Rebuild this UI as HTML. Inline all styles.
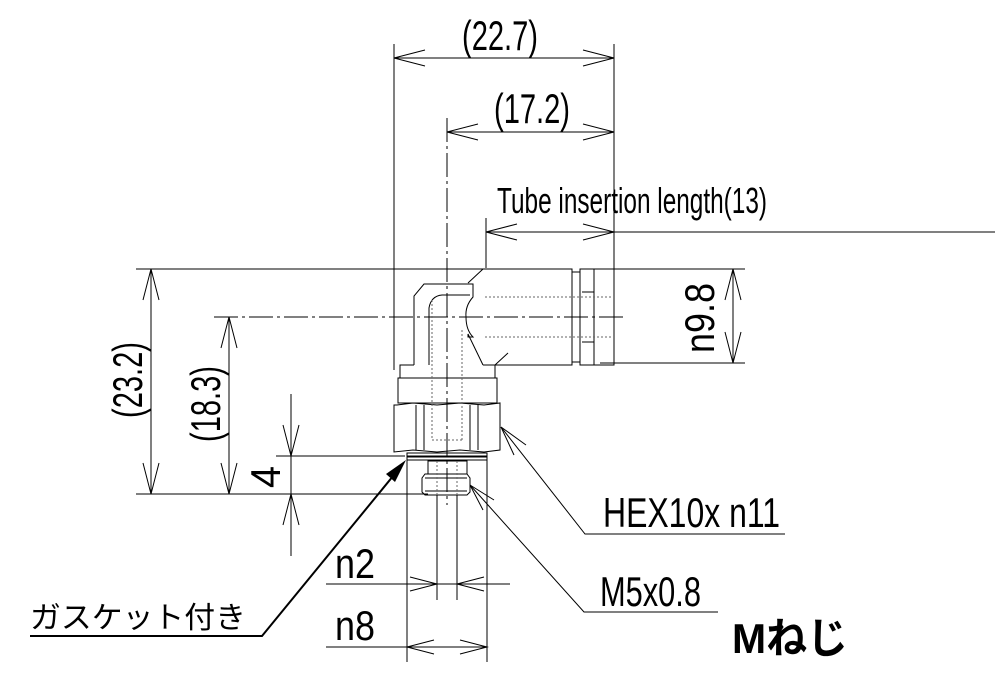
<!DOCTYPE html>
<html><head><meta charset="utf-8"><style>
html,body{margin:0;padding:0;background:#fff;}
svg{display:block;}
text{font-family:"Liberation Sans Narrow","Liberation Sans","Noto Sans CJK JP",sans-serif;fill:#000;}
</style></head><body>
<svg width="1000" height="678" viewBox="0 0 1000 678" xmlns="http://www.w3.org/2000/svg">
<g stroke="#000" stroke-width="1" fill="none">
<line x1="394" y1="44" x2="394" y2="370"/>
<line x1="447" y1="118" x2="447" y2="505" stroke-dasharray="24,4,3,4"/>
<line x1="486" y1="218" x2="486" y2="268"/>
<line x1="614" y1="44" x2="614" y2="270"/>
<line x1="394" y1="58" x2="614" y2="58"/>
<path d="M425 50 L394 58 L425 66 M583 50 L614 58 L583 66"/>
<line x1="447" y1="132" x2="614" y2="132"/>
<path d="M478 124 L447 132 L478 140 M583 124 L614 132 L583 140"/>
<line x1="486" y1="232" x2="995" y2="232"/>
<path d="M517 224 L486 232 L517 240 M583 224 L614 232 L583 240"/>
<line x1="136" y1="269" x2="483" y2="269"/>
<line x1="214" y1="317" x2="625" y2="317" stroke-dasharray="24,4,3,4"/>
<line x1="136" y1="494" x2="428" y2="494"/>
<line x1="276" y1="456" x2="405" y2="456"/>
<line x1="151" y1="269" x2="151" y2="494"/>
<path d="M143 300 L151 269 L159 300 M143 463 L151 494 L159 463"/>
<line x1="229" y1="317" x2="229" y2="494"/>
<path d="M221 348 L229 317 L237 348 M221 463 L229 494 L237 463"/>
<line x1="291" y1="394" x2="291" y2="556"/>
<path d="M283 425 L291 456 L299 425 M283 525 L291 494 L299 525"/>
<line x1="600" y1="269" x2="745" y2="269"/>
<line x1="600" y1="363" x2="745" y2="363"/>
<line x1="733" y1="269" x2="733" y2="363"/>
<path d="M725 300 L733 269 L741 300 M725 332 L733 363 L741 332"/>
<line x1="437" y1="495" x2="437" y2="600"/>
<line x1="457" y1="495" x2="457" y2="600"/>
<line x1="407" y1="460" x2="407" y2="662"/>
<line x1="487" y1="460" x2="487" y2="662"/>
<line x1="326" y1="584" x2="510" y2="584"/>
<path d="M410 577 L437 584 L410 591 M484 577 L457 584 L484 591"/>
<line x1="326" y1="647" x2="487" y2="647"/>
<path d="M434 640 L407 647 L434 654 M460 640 L487 647 L460 654"/>
<path d="M414 365 L414 296 L424 284 L473 284 L473 297 Q465 306 466 317 Q466 330 473 337 L468 337 L468 334 L483 365" />
<path d="M468 283 L483 269 L572 269 L572 365 L483 365"/>
<path d="M429 365 L429 308 Q431 296 442 295 L470 295"/>
<path d="M572 272 L580 272 L580 362 L572 362"/>
<path d="M580 269 L614 269 L614 365 L580 365 Z"/>
<line x1="594" y1="269" x2="594" y2="365"/>
<line x1="582" y1="292" x2="594" y2="292"/>
<line x1="582" y1="342" x2="594" y2="342"/>
<path d="M483 365 L495 365 L495 378 L400 378 L400 365 L414 365"/>
<line x1="495" y1="365" x2="508" y2="353"/>
<rect x="398" y="378" width="99" height="25"/>
<path d="M397 405 L413 403 L437 405 L460 403 L484 405 L500 403 L500 450 L484 452 L460 450 L437 452 L413 450 L394 452 L394 405 Z"/>
<line x1="416" y1="405" x2="416" y2="450"/><line x1="424" y1="405" x2="424" y2="450"/>
<line x1="470" y1="405" x2="470" y2="450"/><line x1="478" y1="405" x2="478" y2="450"/>
<rect x="407" y="453" width="80" height="3"/>
<rect x="407" y="457" width="80" height="3"/>
<rect x="428" y="461" width="39" height="13"/>
<path d="M425 474 L467 474 L470 478 L470 492 L467 495 L425 495 L422 492 L422 478 Z"/>
<line x1="425" y1="478" x2="467" y2="478"/><line x1="425" y1="491" x2="467" y2="491"/>
<g stroke-dasharray="2,2" stroke="#666">
<line x1="432" y1="300" x2="432" y2="440"/><line x1="462" y1="330" x2="462" y2="440"/>
<line x1="432" y1="440" x2="462" y2="440"/>
<line x1="485" y1="297" x2="612" y2="297"/><line x1="485" y1="337" x2="612" y2="337"/>
<line x1="437" y1="461" x2="437" y2="495"/><line x1="457" y1="461" x2="457" y2="495"/>
</g>
<path d="M501 427 L585 534 L785 534"/>
<path d="M501 427 L526 445 M501 427 L514 455"/>
<path d="M470 485 L584 612 L718 612"/>
<path d="M470 485 L494 500 M470 485 L483 510"/>
<path d="M30 636 L262 636 L398 470" stroke-width="2"/>
</g>
<polygon points="406,460 386,474 395,482" fill="#000"/>
<g font-size="42">
<text x="462" y="50" textLength="76" lengthAdjust="spacingAndGlyphs">(22.7)</text>
<text x="494" y="123" textLength="76" lengthAdjust="spacingAndGlyphs">(17.2)</text>
<text x="497" y="213" font-size="36" textLength="270" lengthAdjust="spacingAndGlyphs">Tube insertion length(13)</text>
<text x="603" y="527" textLength="177" lengthAdjust="spacingAndGlyphs">HEX10x  n11</text>
<text x="600" y="606" textLength="101" lengthAdjust="spacingAndGlyphs">M5x0.8</text>
<text x="335" y="578" textLength="40" lengthAdjust="spacingAndGlyphs">n2</text>
<text x="335" y="640" textLength="40" lengthAdjust="spacingAndGlyphs">n8</text>
<text transform="translate(280 488) rotate(-90)" textLength="22" lengthAdjust="spacingAndGlyphs">4</text>
<text transform="translate(142 418) rotate(-90)" textLength="76" lengthAdjust="spacingAndGlyphs">(23.2)</text>
<text transform="translate(220 442) rotate(-90)" textLength="76" lengthAdjust="spacingAndGlyphs">(18.3)</text>
<text transform="translate(714 353) rotate(-90)" textLength="70" lengthAdjust="spacingAndGlyphs">n9.8</text>
</g>
<text x="30" y="628" font-size="30" font-family="'Noto Sans CJK JP',sans-serif" textLength="216" lengthAdjust="spacingAndGlyphs">ガスケット付き</text>
<text x="732" y="653" font-size="42" font-weight="bold" font-family="'Liberation Sans','Noto Sans CJK JP',sans-serif" textLength="116" lengthAdjust="spacingAndGlyphs">Mねじ</text>
</svg>
</body></html>
